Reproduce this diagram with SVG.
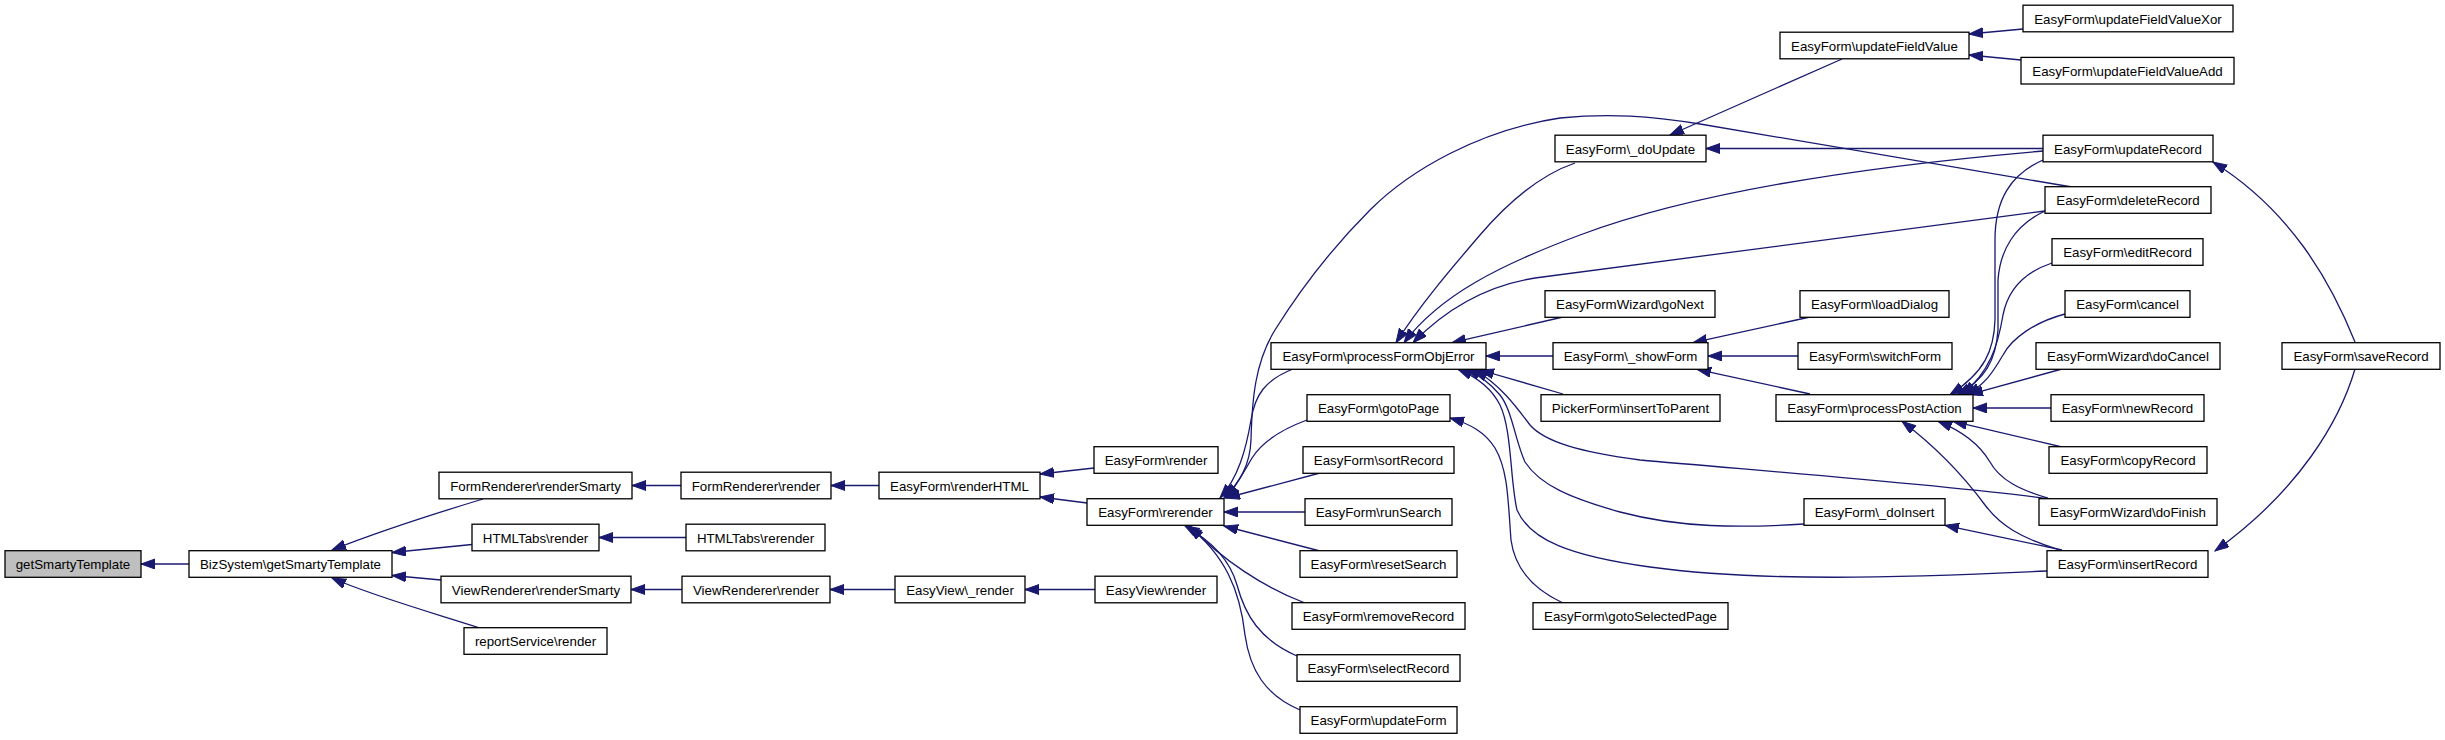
<svg xmlns="http://www.w3.org/2000/svg" width="2445" height="740" viewBox="0 0 2445 740">
<defs>
<style>
.n rect{fill:#fff;stroke:#000;stroke-width:1.3}
.n.root rect{fill:#bfbfbf}
.n text{font-family:"Liberation Sans",Arial,Helvetica,sans-serif;font-size:13.3px;text-anchor:middle;fill:#000}
.e path{fill:none;stroke:#191970;stroke-width:1.3;marker-end:url(#a)}
</style>
<marker id="a" markerUnits="userSpaceOnUse" markerWidth="16" markerHeight="12" refX="14" refY="5" orient="auto"><path d="M0,0 L14,5 L0,10 z" fill="#191970" stroke="#191970" stroke-width="1"/></marker>
</defs>
<rect x="0" y="0" width="2445" height="740" fill="#fff"/>
<g id="edges" class="e">
<path d="M189,564 L141,564"/>
<path d="M483,499 C430,515 370,535 332,550"/>
<path d="M472,544.5 L392,552.5"/>
<path d="M441,580 L392,575.5"/>
<path d="M480,628 C430,612 370,595 332,578"/>
<path d="M681,485.5 L632,485.5"/>
<path d="M686,537.5 L599,537.5"/>
<path d="M682,589.5 L631,589.5"/>
<path d="M879,485.5 L831,485.5"/>
<path d="M895,589.5 L830,589.5"/>
<path d="M1094,468 L1040,474"/>
<path d="M1087,503 L1040,497"/>
<path d="M1095,589.5 L1025,589.5"/>
<path d="M1293,369 C1265,380 1255,395 1251,420 C1246,450 1238,478 1220,498"/>
<path d="M2072,187 L1700,124 C1650,116 1610,113 1560,118 C1480,130 1410,170 1370,210 C1330,250 1300,290 1275,330 C1255,362 1252,400 1251,440 C1250,465 1240,482 1224,498"/>
<path d="M1307,420 C1280,430 1262,442 1252,458 C1242,475 1236,487 1226,498"/>
<path d="M1320,473 L1226,498"/>
<path d="M1305,512 L1224,512"/>
<path d="M1320,551 L1224,526"/>
<path d="M1305,603 C1265,588 1222,560 1190,526"/>
<path d="M1297,656 C1260,640 1245,615 1237,585 C1230,560 1210,540 1185,526"/>
<path d="M1300,710 C1265,695 1250,670 1245,635 C1240,590 1225,555 1188,526"/>
<path d="M1575,163 C1540,175 1510,200 1480,235 C1450,270 1420,305 1396,342.7"/>
<path d="M2043,151 C1880,165 1700,190 1580,235 C1500,265 1440,295 1404,342.7"/>
<path d="M2045,211 L1535,278 C1490,285 1450,305 1413,342.7"/>
<path d="M1563,317 L1452,342.7"/>
<path d="M1553,356 L1486,356"/>
<path d="M1563,394 L1480,370"/>
<path d="M2050,499 C1950,485 1750,470 1640,460 C1580,452 1545,442 1530,425 C1515,405 1500,385 1474,369.3"/>
<path d="M1804,524 C1740,528 1680,528 1620,512 C1570,498 1540,485 1525,462 C1515,440 1512,410 1500,395 C1490,383 1480,375 1466,369.3"/>
<path d="M2047,571 C1900,578 1760,582 1650,567 C1570,556 1530,540 1517,510 C1510,480 1512,430 1500,405 C1490,385 1472,375 1458,369.3"/>
<path d="M1563,603 C1535,590 1515,570 1511,540 C1508,500 1508,470 1495,448 C1485,432 1470,424 1450,418"/>
<path d="M1842,59 L1670,135"/>
<path d="M2043,148.5 L1706,148.5"/>
<path d="M2023,29 L1969,34"/>
<path d="M2021,60 L1969,55"/>
<path d="M1810,317 L1693,342.7"/>
<path d="M1798,356 L1708,356"/>
<path d="M1810,394 L1697,369.3"/>
<path d="M2043,160 C2010,175 1995,200 1995,240 L1995,320 C1994,350 1985,372 1950,394.7"/>
<path d="M2045,211 C2015,225 2000,250 1998,280 L1998,330 C1996,360 1985,380 1957,394.7"/>
<path d="M2052,263 C2025,272 2008,290 2003,315 C1998,345 1990,372 1962,394.7"/>
<path d="M2065,314 C2035,322 2012,338 2003,355 C1993,372 1985,385 1966,394.7"/>
<path d="M2062,369 L1969,394.7"/>
<path d="M2051,408 L1973,408"/>
<path d="M2062,447 L1953,421.3"/>
<path d="M2048,498 C2020,490 2000,480 1990,462 C1980,445 1965,432 1938,421.3"/>
<path d="M2060,550 C2020,538 2000,525 1985,505 C1965,478 1940,450 1902,421.3"/>
<path d="M2062,550 L1945,525.3"/>
<path d="M2355,369 C2340,420 2300,490 2215,551"/>
<path d="M2355,342 C2330,280 2290,210 2213,162"/>
</g>
<g id="n1" class="n root"><rect x="5" y="550.7" width="136" height="26.6"/><text x="73" y="569">getSmartyTemplate</text></g>
<g id="n2" class="n"><rect x="189" y="550.7" width="203" height="26.6"/><text x="290.5" y="569">BizSystem\getSmartyTemplate</text></g>
<g id="n3" class="n"><rect x="439" y="472.2" width="193" height="26.6"/><text x="535.5" y="490.5">FormRenderer\renderSmarty</text></g>
<g id="n4" class="n"><rect x="472" y="524.2" width="127" height="26.6"/><text x="535.5" y="542.5">HTMLTabs\render</text></g>
<g id="n5" class="n"><rect x="441" y="576.2" width="190" height="26.6"/><text x="536" y="594.5">ViewRenderer\renderSmarty</text></g>
<g id="n6" class="n"><rect x="464" y="627.7" width="143" height="26.6"/><text x="535.5" y="646">reportService\render</text></g>
<g id="n7" class="n"><rect x="681" y="472.2" width="150" height="26.6"/><text x="756" y="490.5">FormRenderer\render</text></g>
<g id="n8" class="n"><rect x="686" y="524.2" width="139" height="26.6"/><text x="755.5" y="542.5">HTMLTabs\rerender</text></g>
<g id="n9" class="n"><rect x="682" y="576.2" width="148" height="26.6"/><text x="756" y="594.5">ViewRenderer\render</text></g>
<g id="n10" class="n"><rect x="879" y="472.2" width="161" height="26.6"/><text x="959.5" y="490.5">EasyForm\renderHTML</text></g>
<g id="n11" class="n"><rect x="895" y="576.2" width="130" height="26.6"/><text x="960" y="594.5">EasyView\_render</text></g>
<g id="n12" class="n"><rect x="1094" y="446.7" width="124" height="26.6"/><text x="1156" y="465">EasyForm\render</text></g>
<g id="n13" class="n"><rect x="1087" y="498.7" width="137" height="26.6"/><text x="1155.5" y="517">EasyForm\rerender</text></g>
<g id="n14" class="n"><rect x="1095" y="576.2" width="122" height="26.6"/><text x="1156" y="594.5">EasyView\render</text></g>
<g id="n15" class="n"><rect x="1271" y="342.7" width="215" height="26.6"/><text x="1378.5" y="361">EasyForm\processFormObjError</text></g>
<g id="n16" class="n"><rect x="1307" y="394.7" width="143" height="26.6"/><text x="1378.5" y="413">EasyForm\gotoPage</text></g>
<g id="n17" class="n"><rect x="1303" y="446.7" width="151" height="26.6"/><text x="1378.5" y="465">EasyForm\sortRecord</text></g>
<g id="n18" class="n"><rect x="1305" y="498.7" width="147" height="26.6"/><text x="1378.5" y="517">EasyForm\runSearch</text></g>
<g id="n19" class="n"><rect x="1300" y="550.7" width="157" height="26.6"/><text x="1378.5" y="569">EasyForm\resetSearch</text></g>
<g id="n20" class="n"><rect x="1292" y="602.7" width="173" height="26.6"/><text x="1378.5" y="621">EasyForm\removeRecord</text></g>
<g id="n21" class="n"><rect x="1297" y="654.7" width="163" height="26.6"/><text x="1378.5" y="673">EasyForm\selectRecord</text></g>
<g id="n22" class="n"><rect x="1300" y="706.7" width="157" height="26.6"/><text x="1378.5" y="725">EasyForm\updateForm</text></g>
<g id="n23" class="n"><rect x="1555" y="135.2" width="151" height="26.6"/><text x="1630.5" y="153.5">EasyForm\_doUpdate</text></g>
<g id="n24" class="n"><rect x="1545" y="290.7" width="170" height="26.6"/><text x="1630" y="309">EasyFormWizard\goNext</text></g>
<g id="n25" class="n"><rect x="1553" y="342.7" width="155" height="26.6"/><text x="1630.5" y="361">EasyForm\_showForm</text></g>
<g id="n26" class="n"><rect x="1541" y="394.7" width="179" height="26.6"/><text x="1630.5" y="413">PickerForm\insertToParent</text></g>
<g id="n27" class="n"><rect x="1533" y="602.7" width="195" height="26.6"/><text x="1630.5" y="621">EasyForm\gotoSelectedPage</text></g>
<g id="n28" class="n"><rect x="1780" y="32.2" width="189" height="26.6"/><text x="1874.5" y="50.5">EasyForm\updateFieldValue</text></g>
<g id="n29" class="n"><rect x="1800" y="290.7" width="149" height="26.6"/><text x="1874.5" y="309">EasyForm\loadDialog</text></g>
<g id="n30" class="n"><rect x="1798" y="342.7" width="154" height="26.6"/><text x="1875" y="361">EasyForm\switchForm</text></g>
<g id="n31" class="n"><rect x="1776" y="394.7" width="197" height="26.6"/><text x="1874.5" y="413">EasyForm\processPostAction</text></g>
<g id="n32" class="n"><rect x="1804" y="498.7" width="141" height="26.6"/><text x="1874.5" y="517">EasyForm\_doInsert</text></g>
<g id="n33" class="n"><rect x="2023" y="5.2" width="210" height="26.6"/><text x="2128" y="23.5">EasyForm\updateFieldValueXor</text></g>
<g id="n34" class="n"><rect x="2021" y="57.4" width="213" height="26.6"/><text x="2127.5" y="75.7">EasyForm\updateFieldValueAdd</text></g>
<g id="n35" class="n"><rect x="2043" y="135.2" width="170" height="26.6"/><text x="2128" y="153.5">EasyForm\updateRecord</text></g>
<g id="n36" class="n"><rect x="2045" y="186.7" width="166" height="26.6"/><text x="2128" y="205">EasyForm\deleteRecord</text></g>
<g id="n37" class="n"><rect x="2052" y="238.7" width="151" height="26.6"/><text x="2127.5" y="257">EasyForm\editRecord</text></g>
<g id="n38" class="n"><rect x="2065" y="290.7" width="125" height="26.6"/><text x="2127.5" y="309">EasyForm\cancel</text></g>
<g id="n39" class="n"><rect x="2036" y="342.7" width="184" height="26.6"/><text x="2128" y="361">EasyFormWizard\doCancel</text></g>
<g id="n40" class="n"><rect x="2051" y="394.7" width="153" height="26.6"/><text x="2127.5" y="413">EasyForm\newRecord</text></g>
<g id="n41" class="n"><rect x="2049" y="446.7" width="158" height="26.6"/><text x="2128" y="465">EasyForm\copyRecord</text></g>
<g id="n42" class="n"><rect x="2039" y="498.7" width="178" height="26.6"/><text x="2128" y="517">EasyFormWizard\doFinish</text></g>
<g id="n43" class="n"><rect x="2047" y="550.7" width="161" height="26.6"/><text x="2127.5" y="569">EasyForm\insertRecord</text></g>
<g id="n44" class="n"><rect x="2282" y="342.7" width="158" height="26.6"/><text x="2361" y="361">EasyForm\saveRecord</text></g>
</svg>
